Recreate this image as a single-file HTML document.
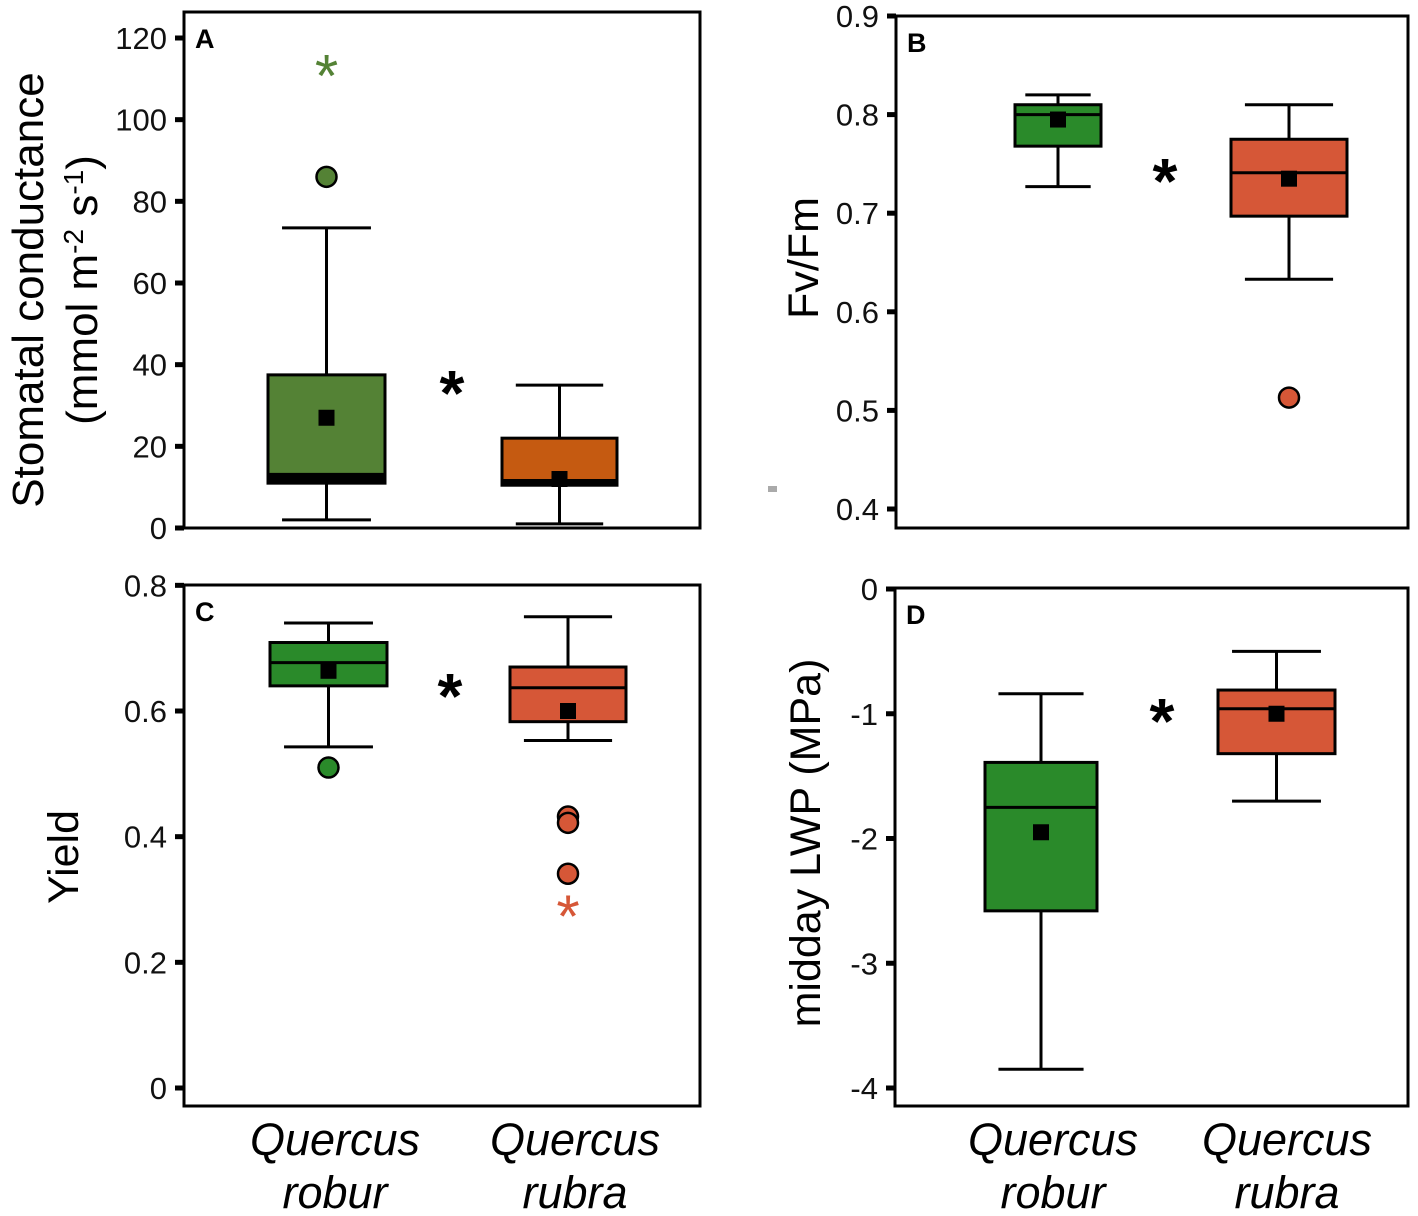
<!DOCTYPE html>
<html><head><meta charset="utf-8">
<style>
html,body{margin:0;padding:0;background:#fff;}
svg{display:block;font-family:"Liberation Sans",Arial,sans-serif;}
</style></head>
<body>
<svg id="fig" width="1418" height="1216" viewBox="0 0 1418 1216" xmlns="http://www.w3.org/2000/svg">
<rect x="768" y="486" width="9" height="6" fill="#aaa"/>
</svg>
<script>
// Panel A data: [whiskerLow, q1, median, q3, whiskerHigh, mean]
const aStats = [[2, 11, 13.5, 37.5, 73.5, 27],[1, 10.5, 12, 22, 35, 12]];
const aOutliers = [[86],[]];
const aStars = [[113],[]];
const aTicks = [0,20,40,60,80,100,120];
// Panel B
const bStats = [[0.727, 0.768, 0.80, 0.81, 0.82, 0.795],[0.633, 0.697, 0.741, 0.775, 0.81, 0.735]];
const bOutliers = [[],[0.513]];
const bStars = [[],[]];
const bTicks = [0.4,0.5,0.6,0.7,0.8,0.9];
// Panel C
const cStats = [[0.543, 0.640, 0.677, 0.709, 0.740, 0.664],[0.553, 0.583, 0.637, 0.670, 0.750, 0.600]];
const cOutliers = [[0.51],[0.432, 0.422, 0.341]];
const cStars = [[],[0.288]];
const cTicks = [0,0.2,0.4,0.6,0.8];
// Panel D
const dStats = [[-3.85, -2.58, -1.75, -1.39, -0.84, -1.95],[-1.7, -1.32, -0.96, -0.81, -0.5, -1.0]];
const dOutliers = [[],[]];
const dStars = [[],[]];
const dTicks = [-4,-3,-2,-1,0];
const species = ["robur","rubra"];

const svg = document.getElementById('fig');
const NS = 'http://www.w3.org/2000/svg';
function mk(tag, attrs, parent){
  const e = document.createElementNS(NS, tag);
  for (const k in attrs) e.setAttribute(k, attrs[k]);
  (parent||svg).appendChild(e);
  return e;
}

const panels = [
 {id:'a', letter:'A', stats:aStats, out:aOutliers, stars:aStars, ticks:aTicks, fmt:v=>String(v),
  frame:[184,12,700,528], v0:0, y0:528, v1:120, y1:38, bx:[[268,385],[502,617]],
  fill:['#548235','#c55a11'], sig:[452,385], thickMed:true},
 {id:'b', letter:'B', stats:bStats, out:bOutliers, stars:bStars, ticks:bTicks, fmt:v=>v.toFixed(1),
  frame:[896,16,1408,528], v0:0.4, y0:509, v1:0.9, y1:16, bx:[[1015,1101],[1231,1347]],
  fill:['#2a8a2a','#d65737'], sig:[1165,173]},
 {id:'c', letter:'C', stats:cStats, out:cOutliers, stars:cStars, ticks:cTicks, fmt:v=>String(v),
  frame:[184,585,700,1106], v0:0, y0:1088, v1:0.6, y1:711, bx:[[270,387],[510,626]],
  fill:['#2a8a2a','#d65737'], sig:[450,688]},
 {id:'d', letter:'D', stats:dStats, out:dOutliers, stars:dStars, ticks:dTicks, fmt:v=>String(v),
  frame:[895,588,1408,1106], v0:-4, y0:1088, v1:0, y1:589, bx:[[985,1097],[1218,1335]],
  fill:['#2a8a2a','#d65737'], sig:[1162,713]}
];

panels.forEach(p=>{
  const y = v => p.y0 + (v - p.v0)/(p.v1 - p.v0)*(p.y1 - p.y0);
  const g = mk('g',{});
  
  
  const [fx0,fy0,fx1,fy1] = p.frame;
  const fr = mk('rect',{x:fx0,y:fy0,width:fx1-fx0,height:fy1-fy0,fill:'none',stroke:'#000','stroke-width':3},g);
  
  
  p.ticks.forEach(t=>{
    const ty = y(t);
    const tk = mk('line',{x1:fx0-9,x2:fx0,y1:ty,y2:ty,stroke:'#000','stroke-width':5},g);
    
    
    const tl = mk('text',{x:fx0-17,y:ty+11,'text-anchor':'end','font-size':31,fill:'#111'},g);
    tl.textContent = p.fmt(t);
    
    
  });
  const lt = mk('text',{x:fx0+11,y:fy0+36,'font-size':27,'font-weight':'bold'},g);
  lt.textContent = p.letter;
  
  
  p.stats.forEach((s,i)=>{
    const [xa,xb] = p.bx[i]; const cx=(xa+xb)/2; const cw=(xb-xa)*0.38;
    const bg = mk('g',{},g);
    
    
    mk('line',{x1:cx,x2:cx,y1:y(s[0]),y2:y(s[1]),stroke:'#000','stroke-width':3},bg);
    mk('line',{x1:cx,x2:cx,y1:y(s[3]),y2:y(s[4]),stroke:'#000','stroke-width':3},bg);
    mk('line',{x1:cx-cw,x2:cx+cw,y1:y(s[0]),y2:y(s[0]),stroke:'#000','stroke-width':3},bg);
    mk('line',{x1:cx-cw,x2:cx+cw,y1:y(s[4]),y2:y(s[4]),stroke:'#000','stroke-width':3},bg);
    mk('rect',{x:xa,y:y(s[3]),width:xb-xa,height:y(s[1])-y(s[3]),fill:p.fill[i],stroke:'#000','stroke-width':3},bg);
    if (p.thickMed){
      mk('rect',{x:xa-1.5,y:y(s[2]),width:xb-xa+3,height:Math.max(6,y(s[1])-y(s[2])+1.5),fill:'#000'},bg);
    } else {
      mk('line',{x1:xa,x2:xb,y1:y(s[2]),y2:y(s[2]),stroke:'#000','stroke-width':3},bg);
    }
    const m = mk('rect',{x:cx-8,y:y(s[5])-8,width:16,height:16,fill:'#000'},bg);
    
    
    p.out[i].forEach(o=>{
      const c = mk('circle',{cx:cx,cy:y(o),r:10,fill:p.fill[i],stroke:'#000','stroke-width':2.5},g);
      
      
    });
    p.stars[i].forEach(o=>{
      const st = mk('text',{x:cx,y:y(o)+30,'text-anchor':'middle','font-size':60,fill:p.fill[i]},g);
      st.textContent='*';
      
      
    });
  });
  const sg = mk('text',{x:p.sig[0],y:p.sig[1]+30,'text-anchor':'middle','font-size':64,'font-weight':'bold'},g);
  sg.textContent='*';
  
  
});

function label(txt,x,y,rot,size,name,italic){
  const t = mk('text',{x:x,y:y,'text-anchor':'middle','font-size':size,
    transform: rot?`rotate(-90 ${x} ${y})`:'', 'font-style': italic?'italic':'normal'});
  t.innerHTML = txt;
  
  
}
label('Stomatal conductance',43,290,true,44,'y-axis-title-a');
label('(mmol m<tspan font-size="28" dy="-14">-2</tspan><tspan dy="14"> s</tspan><tspan font-size="28" dy="-14">-1</tspan><tspan dy="14">)</tspan>',97,290,true,44,'y-axis-units-a');
label('Fv/Fm',818,258,true,43,'y-axis-title-b');
label('Yield',78,857,true,43,'y-axis-title-c');
label('midday LWP (MPa)',820,843,true,43,'y-axis-title-d');
[[335,'robur'],[575,'rubra'],[1053,'robur'],[1287,'rubra']].forEach(([x,s])=>{
  label('Quercus',x,1155,false,45,'x-label-genus',true);
  label(s,x,1208,false,45,'x-label-species-'+s,true);
});
</script>
</body></html>
